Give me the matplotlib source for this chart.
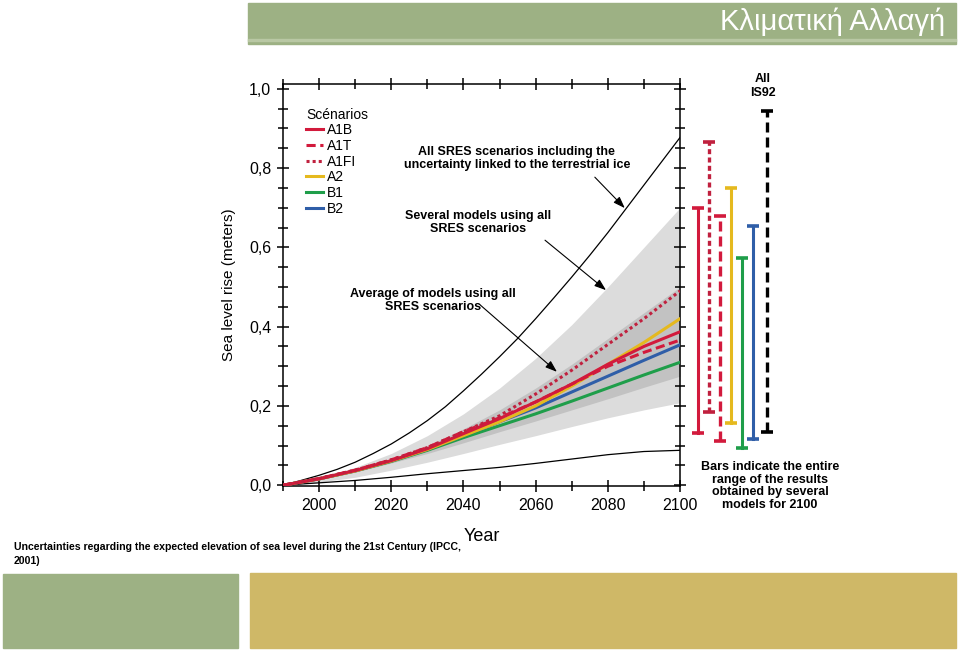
import numpy as np
import matplotlib
matplotlib.use('Agg')
import matplotlib.pyplot as plt
from matplotlib.patches import Rectangle
from matplotlib.ticker import MultipleLocator, FuncFormatter

# Datos
years = [1990, 2000, 2010, 2020, 2030, 2040, 2050, 2060, 2070, 2080, 2090, 2100]
years_5 = list(range(1990, 2101, 5))
upper_env = [0, 0.012, 0.025, 0.04, 0.058, 0.08, 0.104, 0.132, 0.163, 0.198, 0.238, 0.28,
             0.324, 0.37, 0.42, 0.472, 0.525, 0.58, 0.637, 0.697, 0.757, 0.817, 0.877]
lower_env = [0, 0.006, 0.012, 0.02, 0.029, 0.037, 0.045, 0.055, 0.066, 0.077, 0.085, 0.088]
light_hi = [0, 0.02, 0.045, 0.08, 0.125, 0.18, 0.245, 0.32, 0.405, 0.50, 0.60, 0.70]
light_lo = [0, 0.008, 0.02, 0.038, 0.058, 0.08, 0.103, 0.125, 0.148, 0.17, 0.19, 0.208]
dark_hi = [0, 0.018, 0.04, 0.067, 0.1, 0.142, 0.19, 0.245, 0.305, 0.37, 0.435, 0.50]
dark_lo = [0, 0.014, 0.033, 0.056, 0.08, 0.107, 0.135, 0.162, 0.19, 0.218, 0.247, 0.275]

scenarios = ['A1B', 'A1T', 'A1FI', 'A2', 'B1', 'B2']
series = {
    'A1B':  [0, 0.016, 0.037, 0.062, 0.092, 0.130, 0.168, 0.21, 0.255, 0.305, 0.35, 0.387],
    'A1T':  [0, 0.017, 0.038, 0.064, 0.095, 0.135, 0.170, 0.21, 0.255, 0.300, 0.335, 0.366],
    'A1FI': [0, 0.017, 0.038, 0.064, 0.095, 0.135, 0.175, 0.23, 0.290, 0.355, 0.42, 0.49],
    'A2':   [0, 0.016, 0.036, 0.061, 0.090, 0.125, 0.160, 0.20, 0.250, 0.305, 0.36, 0.42],
    'B1':   [0, 0.016, 0.036, 0.060, 0.088, 0.120, 0.150, 0.18, 0.212, 0.245, 0.278, 0.31],
    'B2':   [0, 0.016, 0.036, 0.061, 0.090, 0.125, 0.160, 0.195, 0.235, 0.275, 0.315, 0.354],
}
colors = {'A1B': '#d21a3c', 'A1T': '#d21a3c', 'A1FI': '#c0203e',
          'A2': '#e5b91e', 'B1': '#1f9e4a', 'B2': '#2f5ea8'}
styles = {'A1B': '-', 'A1T': (0, (3, 1.5)), 'A1FI': (0, (1, 1)),
          'A2': '-', 'B1': '-', 'B2': '-'}

# Rangos para 2100 (barras a la derecha)
bar_names = ['A1B', 'A1FI', 'A1T', 'A2', 'B1', 'B2', 'IS92']
bar_top = [0.70, 0.865, 0.678, 0.75, 0.573, 0.653, 0.945]
bar_bottom = [0.131, 0.184, 0.112, 0.156, 0.093, 0.116, 0.134]
bar_colors = ['#d21a3c', '#c0203e', '#d21a3c', '#e5b91e', '#1f9e4a', '#2f5ea8', 'black']
bar_styles = ['-', (0, (1.5, 1)), (0, (3, 1.5)), '-', '-', '-', (0, (3, 1.5))]

W, H = 959, 650
fig = plt.figure(figsize=(W / 100, H / 100), dpi=100)
fig.patch.set_facecolor('white')
plt.rcParams['font.family'] = ['Liberation Sans', 'DejaVu Sans']


def fx(x):
    return x / W


def fy(y):
    return 1 - y / H


# Cabecera y cajas de la diapositiva
fig.patches.append(Rectangle((fx(248), fy(44)), fx(956 - 248), 41 / H,
                             transform=fig.transFigure, color='#9db184', zorder=0))
fig.patches.append(Rectangle((fx(248), fy(41)), fx(956 - 248), 1.5 / H,
                             transform=fig.transFigure, color='#b9c8a4', zorder=0))
fig.text(fx(945), fy(22), 'Κλιματική Αλλαγή', color='white', fontsize=21,
         ha='right', va='center')
fig.patches.append(Rectangle((fx(3), fy(648)), fx(235), 74 / H,
                             transform=fig.transFigure, color='#9db184', zorder=0))
fig.patches.append(Rectangle((fx(250), fy(648)), fx(706), 75 / H,
                             transform=fig.transFigure, color='#cfb867', zorder=0))
fig.text(fx(14), fy(554), 'Uncertainties regarding the expected elevation of sea level '
         'during the 21st Century (IPCC,\n2001)', fontsize=7.6, fontweight='bold',
         ha='left', va='center', linespacing=1.4)

# Grafico principal
ax = fig.add_axes([fx(283), fy(486), fx(680 - 283), (486 - 84) / H])
ax.fill_between(years, light_lo, light_hi, color='#dcdcdc', lw=0, zorder=1)
ax.fill_between(years, dark_lo, dark_hi, color='#c2c2c2', lw=0, zorder=2)
ax.plot(years_5, upper_env, color='black', lw=0.9, zorder=3)
ax.plot(years, lower_env, color='black', lw=0.9, zorder=3)
for name in ['B1', 'B2', 'A2', 'A1T', 'A1B', 'A1FI']:
    ax.plot(years, series[name], color=colors[name], ls=styles[name],
            lw=2.2, zorder=4)

ax.set_xlim(1990, 2100)
ax.set_ylim(-0.002, 1.012)
ax.xaxis.set_major_locator(MultipleLocator(20))
ax.xaxis.set_minor_locator(MultipleLocator(10))
ax.yaxis.set_major_locator(MultipleLocator(0.2))
ax.yaxis.set_minor_locator(MultipleLocator(0.05))
ax.set_xticks([2000, 2020, 2040, 2060, 2080, 2100])
ax.yaxis.set_major_formatter(FuncFormatter(lambda v, p: f'{v:.1f}'.replace('.', ',')))
ax.tick_params(which='both', direction='inout', top=True, right=True,
               labelsize=11.5, width=1.1, pad=4)
ax.tick_params(which='major', length=9)
ax.tick_params(which='minor', length=7)
for s in ax.spines.values():
    s.set_linewidth(1.1)
ax.set_xlabel('Year', fontsize=13, labelpad=11)
ax.set_ylabel('Sea level rise (meters)', fontsize=11, labelpad=9)

# Leyenda
leg_handles = [ax.plot([], [], color=colors[n], ls=styles[n], lw=2.2)[0] for n in scenarios]
leg = ax.legend(leg_handles, scenarios, title='Scénarios', loc='upper left',
                bbox_to_anchor=(0.045, 0.955), frameon=False, handlelength=1.2,
                handletextpad=0.3, labelspacing=0.12, borderaxespad=0,
                prop={'size': 10}, title_fontproperties={'size': 10})
leg._legend_box.align = 'left'

ann = dict(fontsize=9, fontweight='bold', ha='center', va='center', linespacing=1.1)
arrow = dict(arrowstyle='-|>,head_length=0.7,head_width=0.25', color='black', lw=0.8,
             shrinkA=0, shrinkB=0)
ax.annotate('All SRES scenarios including the\nuncertainty linked to the terrestrial ice',
            xy=(2084.7, 0.699), xytext=(2054.8, 0.824), **ann)
ax.annotate('', xy=(2084.7, 0.699), xytext=(2076.4, 0.777), arrowprops=arrow)
ax.annotate('Several models using all\nSRES scenarios',
            xy=(2079.5, 0.492), xytext=(2044, 0.663), **ann)
ax.annotate('', xy=(2079.5, 0.492), xytext=(2062.6, 0.618), arrowprops=arrow)
ax.annotate('Average of models using all\nSRES scenarios',
            xy=(2065.9, 0.286), xytext=(2031.5, 0.467), **ann)
ax.annotate('', xy=(2065.9, 0.286), xytext=(2044.6, 0.455), arrowprops=arrow)

# Barras de rango 2100
ax2 = fig.add_axes([fx(690), fy(486), fx(85), (486 - 84) / H], sharey=ax)
ax2.axis('off')
ax2.set_xlim(-0.75, 7.0)
bar_x = np.arange(len(bar_names), dtype=float)
bar_x[-1] += 0.3
for x, t, b, c, ls in zip(bar_x, bar_top, bar_bottom, bar_colors, bar_styles):
    ax2.plot([x, x], [b, t], color=c, ls=ls, lw=2.4 if ls != '-' else 2.2)
    ax2.plot([x, x], [b, t], ls='none', marker='_', ms=8, mew=2.6, color=c)
ax2.set_ylim(-0.002, 1.012)

fig.text(fx(763), fy(86), 'All\nIS92', fontsize=9, fontweight='bold',
         ha='center', va='center', linespacing=1.15)
fig.text(fx(770), fy(486), 'Bars indicate the entire\nrange of the results\n'
         'obtained by several\nmodels for 2100', fontsize=9, fontweight='bold',
         ha='center', va='center', linespacing=1.1)

fig.savefig('out.png', dpi=100)
